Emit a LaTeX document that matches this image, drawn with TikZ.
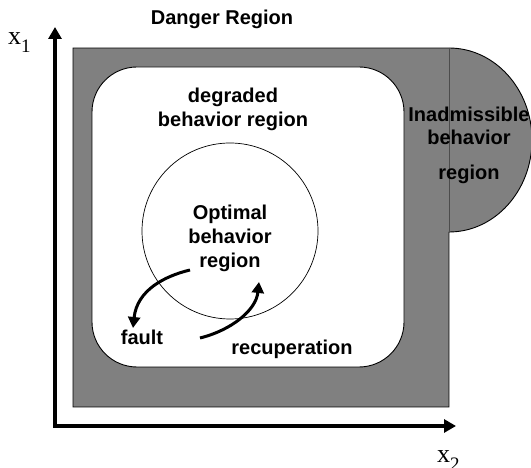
\documentclass[tikz,border=0pt]{standalone}
\usepackage{fontspec}
\setmainfont{Liberation Sans}
\newfontfamily\serifx{Liberation Serif}
\usetikzlibrary{arrows.meta}
\begin{document}
\begin{tikzpicture}[x=1pt,y=1pt,
  lbl/.style={font=\fontsize{20}{24}\selectfont\bfseries, inner sep=0pt, anchor=base},
  axis/.style={line width=3.5pt, {Triangle[length=12pt,width=13pt]}-{Triangle[length=12pt,width=13pt]}},
  trans/.style={line width=3pt, -{Triangle[length=11pt,width=12pt]}},
  zone/.style={fill=gray, draw=black, line width=0.9pt},
]
\useasboundingbox (0,0) rectangle (531,468);
% danger region (grey)
\fill[gray] (73,61) rectangle (449,420);
\fill[gray] (449,420) arc[start angle=90, end angle=-90, x radius=83, y radius=92] -- cycle;
\draw[black, line width=0.9pt] (449,236) -- (449,61) -- (73,61) -- (73,420) -- (449,420)
  arc[start angle=90, end angle=-90, x radius=83, y radius=92];
\draw[gray!60!black, line width=0.6pt] (449,420) -- (449,236);
% degraded region
\draw[fill=white, line width=0.9pt, rounded corners=45pt] (92,101) rectangle (404,401);
% optimal circle
\draw[line width=0.7pt] (230,237) circle[radius=88];
% axes
\coordinate (ytip) at (55,441);
\coordinate (origin) at (55,42);
\coordinate (xtip) at (456,42);
\draw[axis] (ytip) -- (origin) -- (xtip);
% texts
\node[lbl] (danger) at (222,443) {Danger Region};
\node[lbl] (deg1) at (233,365) {degraded};
\node[lbl] (deg2) at (233,341) {behavior region};
\node[lbl] (opt1) at (230,248) {Optimal};
\node[lbl] (opt2) at (230,224) {behavior};
\node[lbl] (opt3) at (230,200) {region};
\node[lbl] (in1) at (469,346) {Inadmissible};
\node[lbl] (in2) at (469,323) {behavior};
\node[lbl] (in3) at (469,288) {region};
\node[lbl] (fault) at (142,123) {fault};
\node[lbl] (recup) at (292,113) {recuperation};
\node[inner sep=0pt, anchor=base west] (x1) at (8,423) {\serifx\fontsize{26}{26}\selectfont x\raisebox{-8pt}{\fontsize{19}{19}\selectfont 1}};
\node[inner sep=0pt, anchor=base west] (x2) at (437,5) {\serifx\fontsize{26}{26}\selectfont x\raisebox{-8pt}{\fontsize{19}{19}\selectfont 2}};
% transitions
\coordinate (fs) at (190,198);
\coordinate (fe) at (133,140);
\coordinate (rs) at (200,130);
\coordinate (re) at (259,186);
\draw[trans] (fs) .. controls (165,192) and (137,178) .. (fe);
\draw[trans] (rs) .. controls (232,138) and (256,158) .. (re);
\end{tikzpicture}
\end{document}
